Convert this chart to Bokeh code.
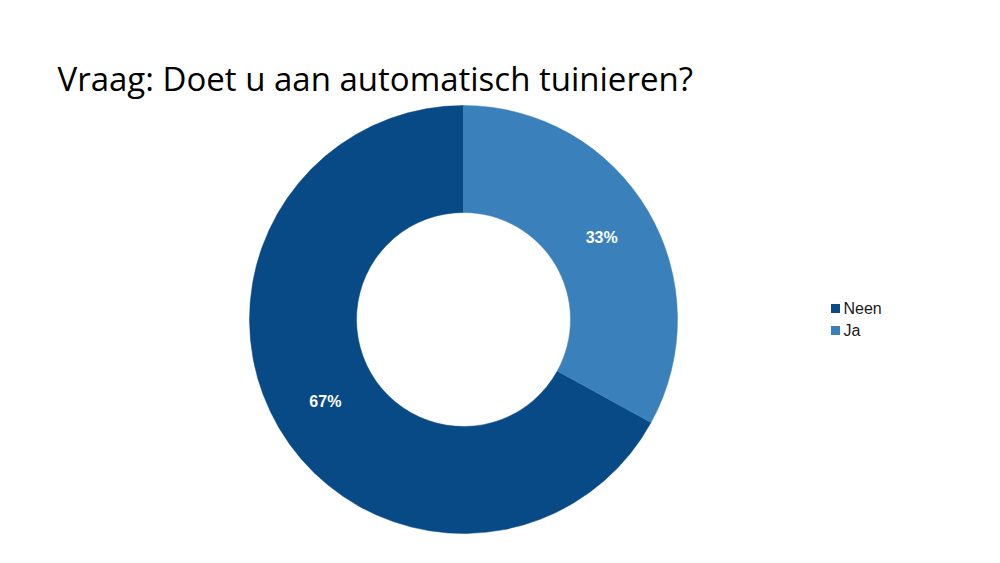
import math
from bokeh.plotting import figure
from bokeh.models import Range1d, ColumnDataSource
from bokeh.core.properties import value
from bokeh.embed import file_html
from bokeh.resources import INLINE

title = "Vraag: Doet u aan automatisch tuinieren?"
categories = ["Neen", "Ja"]
percentages = [67, 33]
colors = ["#084a86", "#3a80bb"]

W, H = 1000, 563
p = figure(width=984, height=547, output_backend="svg", toolbar_location=None,
           x_range=Range1d(0, 984), y_range=Range1d(16, 563), min_border=0)
p.axis.visible = False
p.grid.visible = False
p.outline_line_color = None
p.background_fill_color = "white"
p.border_fill_color = "white"

def Y(sy):
    return H - sy

cx, cy = 463, Y(319)
r_in, r_out = 107, 214

total = sum(percentages)
starts, ends, mids = [], [], []
a = math.pi / 2
for v in percentages:
    da = v / total * 2 * math.pi
    starts.append(a)
    ends.append(a + da)
    mids.append(a + da / 2)
    a += da

src = ColumnDataSource(dict(cat=categories, val=percentages, color=colors,
                            start=starts, end=ends))
p.annular_wedge(x=cx, y=cy, inner_radius=r_in, outer_radius=r_out,
                start_angle="start", end_angle="end", fill_color="color",
                line_color="color", line_width=0.5, source=src)

r_lab = (r_in + r_out) / 2
lab = ColumnDataSource(dict(
    x=[cx + r_lab * math.cos(m) for m in mids],
    y=[cy + r_lab * math.sin(m) for m in mids],
    t=[f"{v}%" for v in percentages]))
p.text(x="x", y="y", text="t", source=lab, text_color="white",
       text_font=value("Liberation Sans"), text_font_style="bold",
       text_font_size="16px", text_align="center", text_baseline="middle")

# legend
leg = ColumnDataSource(dict(
    x=[835] * len(categories),
    y=[Y(308) - i * 22 for i in range(len(categories))],
    tx=[843] * len(categories),
    cat=categories, color=colors))
p.rect(x="x", y="y", width=9, height=9, fill_color="color", line_color=None, source=leg)
p.text(x="tx", y="y", text="cat", source=leg, text_color="#1a1a1a",
       text_font=value("Liberation Sans"), text_font_size="16px",
       text_align="left", text_baseline="middle")

p.text(x=[57], y=[Y(78)], text=[title], text_color="#000000",
       text_font=value("Open Sans"), text_font_size="33px",
       text_align="left", text_baseline="alphabetic")

open("out.html", "w").write(file_html(p, INLINE))
